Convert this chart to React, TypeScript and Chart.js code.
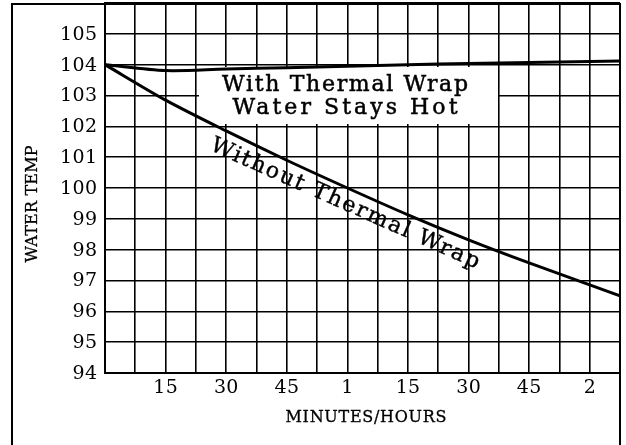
import { useEffect, useRef } from 'react';
import { Chart, registerables } from 'chart.js';

Chart.register(...registerables);

// ---- data ----
const xGridMinutes = [0, 7.5, 15, 22.5, 30, 37.5, 45, 52.5, 60, 67.5, 75, 82.5, 90, 97.5, 105, 112.5, 120, 127.5];
const xTickMinutes = [15, 30, 45, 60, 75, 90, 105, 120];
const xTickLabels = ['15', '30', '45', '1', '15', '30', '45', '2'];
const yGrid = [94, 95, 96, 97, 98, 99, 100, 101, 102, 103, 104, 105, 106];
const yTickValues = [94, 95, 96, 97, 98, 99, 100, 101, 102, 103, 104, 105];
const yTickLabels = ['94', '95', '96', '97', '98', '99', '100', '101', '102', '103', '104', '105'];

const seriesMinutes = [0, 15, 30, 45, 60, 75, 90, 105, 120, 127.5];
const withWrap = [104, 103.81, 103.86, 103.9, 103.95, 104.0, 104.04, 104.07, 104.1, 104.12];
const withoutWrap = [104, 102.85, 101.85, 100.9, 100.0, 99.13, 98.32, 97.57, 96.86, 96.5];

const boxLines = ['With Thermal Wrap', 'Water Stays Hot'];
const curveLabel = 'Without Thermal Wrap';
const yTitle = 'WATER TEMP';
const xTitle = 'MINUTES/HOURS';

const SERIF = '"DejaVu Serif", serif';

function spacedWidth(ctx: CanvasRenderingContext2D, text: string, s: number) {
  (ctx as any).letterSpacing = '0px';
  const w0 = ctx.measureText(text).width;
  return w0 + ([...text].length - 1) * s;
}

// draw text stretched by letter spacing to a given width
function fitText(ctx: CanvasRenderingContext2D, text: string, cx: number, cy: number, width: number, heavy = 0) {
  (ctx as any).letterSpacing = '0px';
  const w0 = ctx.measureText(text).width;
  const n = [...text].length;
  const s = n > 1 ? (width - w0) / (n - 1) : 0;
  (ctx as any).letterSpacing = `${s}px`;
  ctx.textAlign = 'left';
  ctx.fillText(text, cx - width / 2, cy);
  if (heavy > 0) {
    ctx.lineWidth = heavy;
    ctx.strokeStyle = '#000';
    ctx.strokeText(text, cx - width / 2, cy);
  }
  (ctx as any).letterSpacing = '0px';
}

const decor = {
  id: 'decor',
  beforeDraw(chart: any) {
    const ctx = chart.ctx;
    ctx.save();
    ctx.fillStyle = '#fff';
    ctx.fillRect(0, 0, chart.width, chart.height);
    ctx.restore();
  },
  beforeDatasetsDraw(chart: any) {
    const ctx = chart.ctx;
    ctx.save();
    ctx.fillStyle = '#fff';
    ctx.fillRect(199, 67, 299, 57);
    ctx.fillStyle = '#000';
    ctx.font = `22px ${SERIF}`;
    ctx.textBaseline = 'middle';
    fitText(ctx, boxLines[0], 345, 85, 246, 0.5);
    fitText(ctx, boxLines[1], 345, 108, 225, 0.5);
    ctx.restore();
  },
  afterDatasetsDraw(chart: any) {
    const ctx = chart.ctx;
    ctx.save();
    ctx.fillStyle = '#000';
    ctx.font = `22px ${SERIF}`;
    ctx.textBaseline = 'middle';
    ctx.translate(345, 204);
    ctx.rotate((24 * Math.PI) / 180);
    fitText(ctx, curveLabel, 0, 0, 292, 0.4);
    ctx.restore();
  },
  afterDraw(chart: any) {
    const ctx = chart.ctx;
    const xs = chart.scales.x;
    const ys = chart.scales.y;
    ctx.save();
    ctx.fillStyle = '#000';
    ctx.textBaseline = 'middle';

    // tick labels
    ctx.font = `19px ${SERIF}`;
    (ctx as any).letterSpacing = '0px';
    const s = (37 - ctx.measureText('105').width) / 2;
    yTickValues.forEach((v, i) => {
      const t = yTickLabels[i];
      const w = spacedWidth(ctx, t, s);
      (ctx as any).letterSpacing = `${s}px`;
      ctx.textAlign = 'left';
      ctx.fillText(t, 97 - w, ys.getPixelForValue(v) + 1);
    });
    xTickMinutes.forEach((m, i) => {
      const t = xTickLabels[i];
      const w = spacedWidth(ctx, t, s);
      (ctx as any).letterSpacing = `${s}px`;
      ctx.textAlign = 'left';
      ctx.fillText(t, xs.getPixelForValue(m) - w / 2, 388);
    });
    (ctx as any).letterSpacing = '0px';

    // axis titles
    ctx.font = `16px ${SERIF}`;
    fitText(ctx, xTitle, 366, 418, 161, 0.3);
    ctx.save();
    ctx.translate(33, 204);
    ctx.rotate(-Math.PI / 2);
    fitText(ctx, yTitle, 0, 0, 117, 0.3);
    ctx.restore();

    // outer frame
    ctx.strokeStyle = '#000';
    ctx.lineWidth = 2;
    ctx.beginPath();
    ctx.moveTo(12, 445);
    ctx.lineTo(12, 4);
    ctx.lineTo(620, 4);
    ctx.lineTo(620, 445);
    ctx.stroke();
    ctx.restore();
  },
};

export default function App() {
  const ref = useRef<HTMLCanvasElement>(null);
  useEffect(() => {
    document.body.style.margin = '0';
    const chart = new Chart(ref.current!, {
      type: 'line',
      data: {
        datasets: [
          {
            label: 'With Thermal Wrap',
            data: seriesMinutes.map((m, i) => ({ x: m, y: withWrap[i] })),
            borderColor: '#000',
            borderWidth: 3,
            pointRadius: 0,
            tension: 0.3,
            fill: false,
          },
          {
            label: 'Without Thermal Wrap',
            data: seriesMinutes.map((m, i) => ({ x: m, y: withoutWrap[i] })),
            borderColor: '#000',
            borderWidth: 3,
            pointRadius: 0,
            tension: 0.3,
            fill: false,
          },
        ],
      },
      options: {
        responsive: false,
        devicePixelRatio: 1,
        animation: false,
        layout: { padding: { top: 3, right: 6, bottom: 0, left: 0 } },
        plugins: { legend: { display: false }, tooltip: { enabled: false } },
        scales: {
          x: {
            type: 'linear',
            min: 0,
            max: 127.5,
            afterBuildTicks: (sc: any) => {
              sc.ticks = xGridMinutes.map((v) => ({ value: v }));
            },
            afterFit: (sc: any) => {
              sc.height = 72;
            },
            ticks: { display: false },
            grid: { color: '#000', lineWidth: 1.6, drawTicks: false },
            border: { color: '#000', width: 2 },
          },
          y: {
            type: 'linear',
            min: 94,
            max: 106,
            afterBuildTicks: (sc: any) => {
              sc.ticks = yGrid.map((v) => ({ value: v }));
            },
            afterFit: (sc: any) => {
              sc.width = 105;
            },
            ticks: { display: false },
            grid: { color: '#000', lineWidth: 1.6, drawTicks: false },
            border: { color: '#000', width: 2 },
          },
        },
      },
      plugins: [decor],
    } as any);
    return () => chart.destroy();
  }, []);
  return (
    <div style={{ width: 626, height: 445 }}>
      <canvas ref={ref} width={626} height={445} style={{ display: 'block' }} />
    </div>
  );
}
